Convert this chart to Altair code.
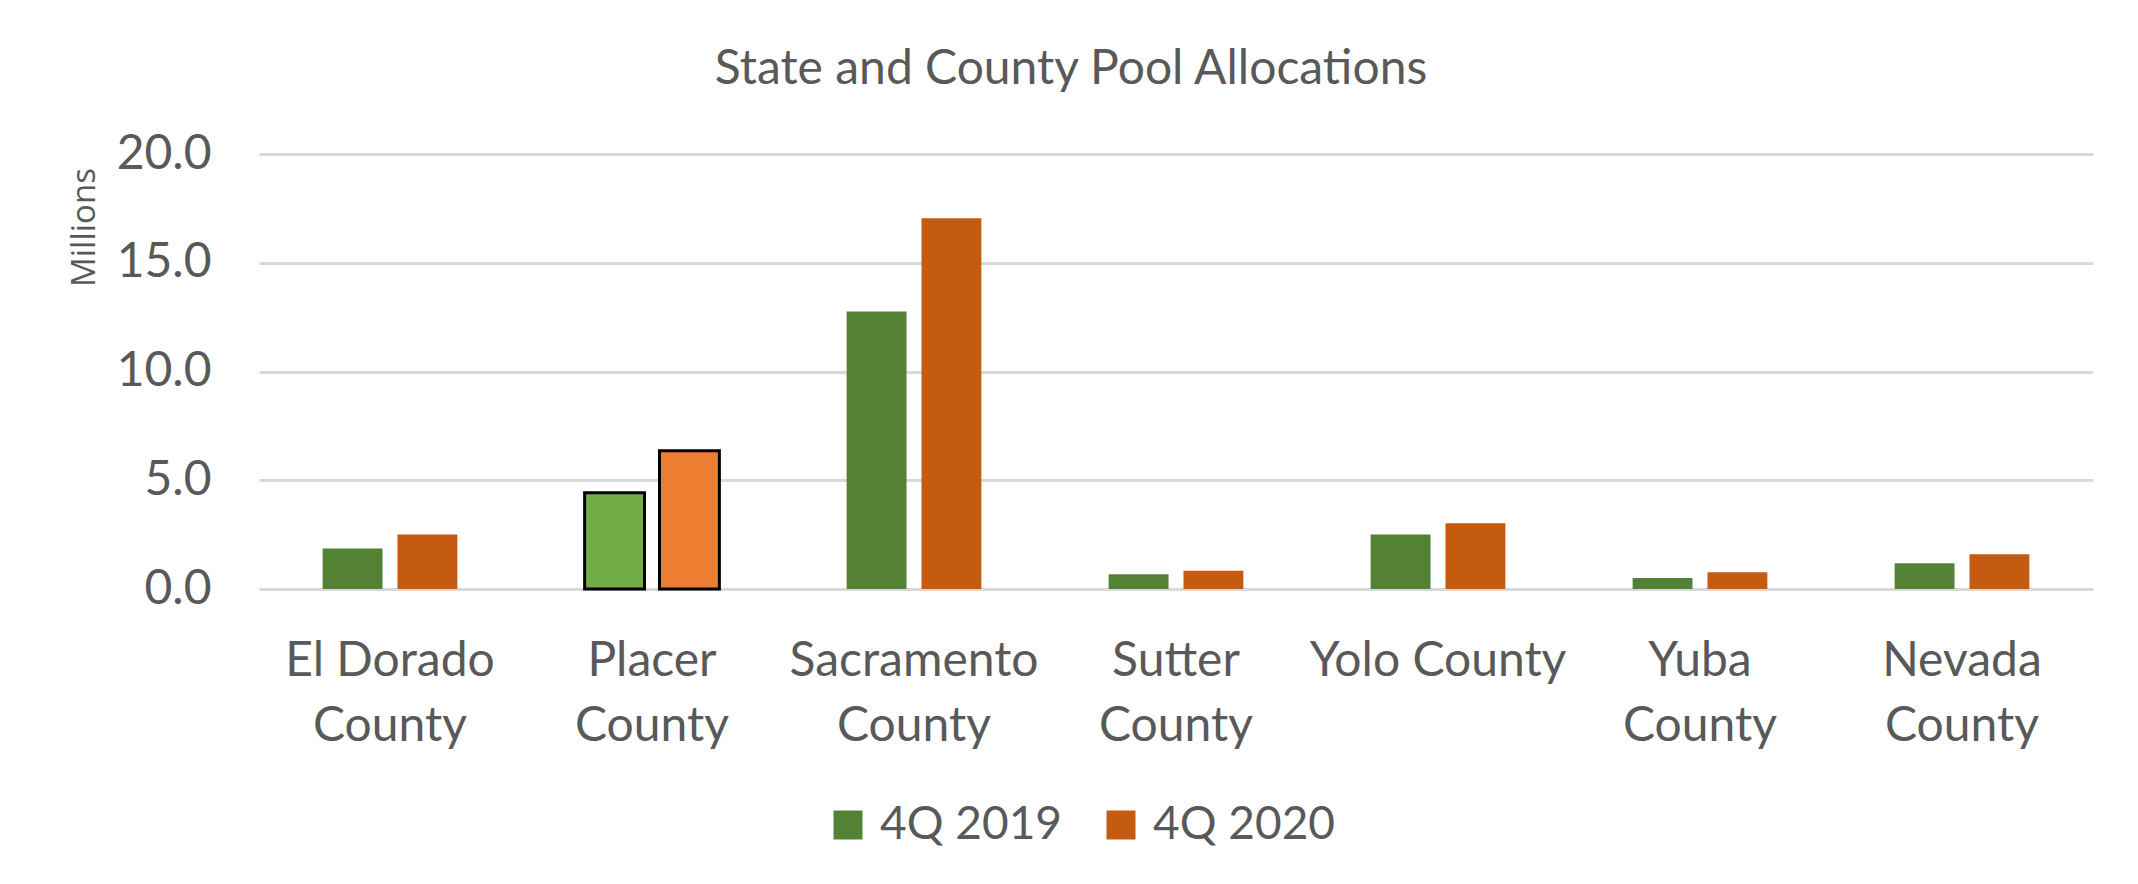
import altair as alt
import pandas as pd

counties = ["El Dorado County", "Placer County", "Sacramento County", "Sutter County",
            "Yolo County", "Yuba County", "Nevada County"]
q4_2019 = [1.86, 4.42, 12.76, 0.68, 2.51, 0.51, 1.18]
q4_2020 = [2.51, 6.36, 17.05, 0.84, 3.02, 0.77, 1.60]
series = ["4Q 2019", "4Q 2020"]
highlight = "Placer County"

rows = []
for c, a, b in zip(counties, q4_2019, q4_2020):
    for s, v in zip(series, [a, b]):
        key = s + (" hl" if c == highlight else "")
        rows.append({"county": c, "series": s, "value": v, "key": key, "hl": c == highlight})
df = pd.DataFrame(rows)

TXT = "#595959"
FONT = "Lato"

chart = alt.Chart(df).mark_bar(strokeWidth=3).encode(
    x=alt.X("county:N", sort=counties,
            scale=alt.Scale(paddingInner=0, paddingOuter=0),
            axis=alt.Axis(title=None, labelAngle=0, ticks=False, domain=False,
                          labelPadding=48, labelFontSize=48, labelLineHeight=65,
                          labelColor=TXT, labelFont=FONT, labelBaseline="top", labelLimit=0,
                          labelExpr="datum.label == 'Yolo County' ? datum.label : [slice(datum.label, 0, -7), 'County']")),
    xOffset=alt.XOffset("series:N", sort=series,
                        scale=alt.Scale(paddingInner=0.2, paddingOuter=0.85)),
    y=alt.Y("value:Q", scale=alt.Scale(domain=[0, 20]),
            axis=alt.Axis(title="Millions", values=[0, 5, 10, 15, 20], format=".1f",
                          ticks=False, domain=False, labelPadding=48, labelFontSize=48,
                          labelColor=TXT, labelFont=FONT,
                          gridColor="#D9D9D9", gridWidth=3,
                          titleFont="Open Sans", titleFontSize=33, titleFontWeight="normal",
                          titleColor=TXT, titleAngle=270, titleAlign="center",
                          titleBaseline="middle", titleX=-175, titleY=73)),
    color=alt.Color("key:N",
                    scale=alt.Scale(domain=["4Q 2019", "4Q 2020", "4Q 2019 hl", "4Q 2020 hl"],
                                    range=["#548235", "#C55A11", "#70AD47", "#ED7D31"]),
                    legend=alt.Legend(title=None, values=series, orient="none",
                                      legendX=566, legendY=648, direction="horizontal",
                                      symbolType="square", symbolSize=840, symbolStrokeWidth=0,
                                      labelFontSize=46, labelFont=FONT, labelColor=TXT,
                                      labelLimit=0, labelOffset=9, columnPadding=36)),
    stroke=alt.condition("datum.hl", alt.value("black"), alt.value(None)),
).properties(
    width=1834, height=435,
    background="white",
    title=alt.TitleParams("State and County Pool Allocations", fontSize=48, font=FONT,
                          fontWeight="normal", color=TXT, anchor="middle",
                          baseline="alphabetic", offset=-2, dx=-105),
    autosize=alt.AutoSizeParams(type="none"),
    padding={"left": 251, "top": 146, "right": 30, "bottom": 280},
).configure_view(stroke=None)

chart.save("out.html", embed_options={"renderer": "svg", "actions": False})
